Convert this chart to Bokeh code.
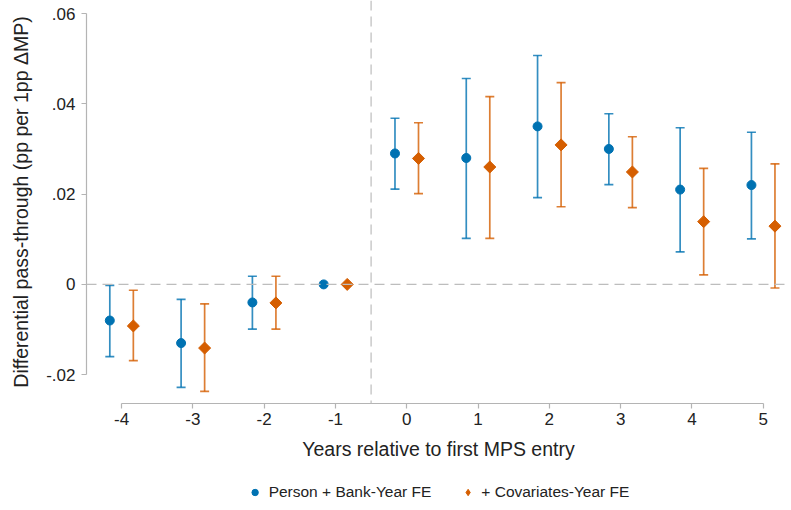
import numpy as np
from bokeh.plotting import figure
from bokeh.layouts import column
from bokeh.models import (ColumnDataSource, Whisker, TeeHead, Span, Legend,
                          LegendItem, FixedTicker, Range1d)
from bokeh.transform import dodge
from bokeh.embed import file_html
from bokeh.resources import INLINE

# ---- data ----
years = [-4, -3, -2, -1, 0, 1, 2, 3, 4, 5]
tick_labels_x = ["-4", "-3", "-2", "-1", "0", "1", "2", "3", "4", "5"]

b_est = [-0.008, -0.013, -0.004, 0.0, 0.029, 0.028, 0.035, 0.030, 0.021, 0.022]
b_lo = [-0.016, -0.0228, -0.0099, None, 0.0211, 0.0102, 0.0192, 0.0221, 0.0072, 0.0101]
b_hi = [-0.0002, -0.0033, 0.0018, None, 0.0368, 0.0456, 0.0507, 0.0378, 0.0347, 0.0337]

o_est = [-0.0092, -0.0141, -0.0041, 0.0, 0.0279, 0.026, 0.0309, 0.0249, 0.0139, 0.0129]
o_lo = [-0.0169, -0.0237, -0.0099, None, 0.0201, 0.0102, 0.0172, 0.0170, 0.0021, -0.0008]
o_hi = [-0.0013, -0.0043, 0.0018, None, 0.0358, 0.0416, 0.0447, 0.0327, 0.0257, 0.0267]

y_ticks = [-0.02, 0.0, 0.02, 0.04, 0.06]
y_tick_labels = ["-.02", "0", ".02", ".04", ".06"]

names = ["Person + Bank-Year FE", "+ Covariates-Year FE"]
BLUE = "#0072B2"
ORANGE = "#D55E00"
FONT = "Liberation Sans"
TXT = "#222222"
AX = "#b4b4b4"


def ci_source(xs, lo, hi):
    keep = [i for i in range(len(xs)) if lo[i] is not None]
    return ColumnDataSource(dict(x=[xs[i] for i in keep],
                                 lower=[lo[i] for i in keep],
                                 upper=[hi[i] for i in keep]))


p = figure(frame_width=704, frame_height=403,
           x_range=Range1d(-4.492, 5.383), y_range=Range1d(-0.02638, 0.06288),
           output_backend="svg", toolbar_location=None,
           min_border_left=86, min_border_top=0, min_border_right=1,
           min_border_bottom=72)
p.outline_line_color = None
p.xgrid.visible = False
p.ygrid.visible = False
p.background_fill_color = "white"
p.border_fill_color = "white"

# reference lines
p.add_layout(Span(location=0, dimension="width", line_color="#bdbdbd",
                  line_width=1.2, line_dash="10 6"))
p.add_layout(Span(location=-0.5, dimension="height", line_color="#bdbdbd",
                  line_width=1.2, line_dash="10 6"))

off = 0.165
for est, lo, hi, col, sgn in [(b_est, b_lo, b_hi, BLUE, -1), (o_est, o_lo, o_hi, ORANGE, 1)]:
    src = ci_source(years, lo, hi)
    w = Whisker(base=dodge("x", sgn * off), lower="lower", upper="upper",
                source=src, dimension="height",
                line_color=col, line_width=1.7, line_alpha=0.8,
                upper_head=TeeHead(size=9, line_color=col, line_width=1.7, line_alpha=0.8),
                lower_head=TeeHead(size=9, line_color=col, line_width=1.7, line_alpha=0.8))
    p.add_layout(w)

src_b = ColumnDataSource(dict(x=years, y=b_est))
src_o = ColumnDataSource(dict(x=years, y=o_est))
r_b = p.scatter(x=dodge("x", -off), y="y", source=src_b, marker="circle",
                size=9, fill_color=BLUE, line_color=BLUE)
r_o = p.scatter(x=dodge("x", off), y="y", source=src_o, marker="square",
                angle=np.pi / 4, size=8.5, fill_color=ORANGE, line_color=ORANGE)

# axes
for ax in (p.xaxis, p.yaxis):
    ax.axis_line_color = AX
    ax.axis_line_width = 1.2
    ax.major_tick_line_color = AX
    ax.major_tick_line_width = 1.2
    ax.minor_tick_line_color = None
    ax.major_tick_out = 5
    ax.major_tick_in = 0
    ax.major_label_text_font = FONT
    ax.major_label_text_font_size = "17px"
    ax.major_label_text_color = TXT
    ax.axis_label_text_font = FONT
    ax.axis_label_text_font_size = "19.5px"
    ax.axis_label_text_font_style = "normal"
    ax.axis_label_text_color = TXT

p.xaxis.ticker = FixedTicker(ticks=years)
p.xaxis.major_label_overrides = {y: t for y, t in zip(years, tick_labels_x)}
p.xaxis.bounds = (-4, 5)
p.xaxis.axis_label = "Years relative to first MPS entry"
p.xaxis.major_label_standoff = 4
p.xaxis.axis_label_standoff = 10

p.yaxis.ticker = FixedTicker(ticks=y_ticks)
p.yaxis.major_label_overrides = {y: t for y, t in zip(y_ticks, y_tick_labels)}
p.yaxis.bounds = (-0.02, 0.06)
p.yaxis.axis_label = "Differential pass-through (pp per 1pp \u0394MP)"
p.yaxis.major_label_standoff = 6
p.yaxis.axis_label_standoff = 11

# ---- legend strip below the chart ----
# legend renderers carry one data row (from the series) that lies outside
# this strip's range, so only their legend glyphs show
lg = figure(width=791, height=33, x_range=Range1d(0, 1), y_range=Range1d(0, 1),
            x_axis_type=None, y_axis_type=None,
            output_backend="svg", toolbar_location=None,
            min_border_left=86, min_border_right=1, min_border_top=0,
            min_border_bottom=0)
lg.outline_line_color = None
lg.background_fill_color = "white"
lg.border_fill_color = "white"
key_b = ColumnDataSource(dict(x=[years[0]], y=[b_est[0]]))
key_o = ColumnDataSource(dict(x=[years[0]], y=[o_est[0]]))
l_b = lg.scatter(x="x", y="y", source=key_b, marker="circle", size=9,
                 fill_color=BLUE, line_color=BLUE)
l_o = lg.scatter(x="x", y="y", source=key_o, marker="diamond", size=13,
                 fill_color=ORANGE, line_color=ORANGE)
legend = Legend(items=[LegendItem(label=names[0], renderers=[l_b], index=0),
                       LegendItem(label=names[1], renderers=[l_o], index=0)],
                orientation="horizontal", location="center",
                border_line_color=None, background_fill_alpha=0,
                label_text_font=FONT, label_text_font_size="15.5px",
                label_text_color=TXT, spacing=28, glyph_width=16,
                label_standoff=6, margin=0, padding=0)
lg.add_layout(legend, "center")

layout = column(p, lg, spacing=0)
open("out.html", "w").write(file_html(layout, INLINE))
